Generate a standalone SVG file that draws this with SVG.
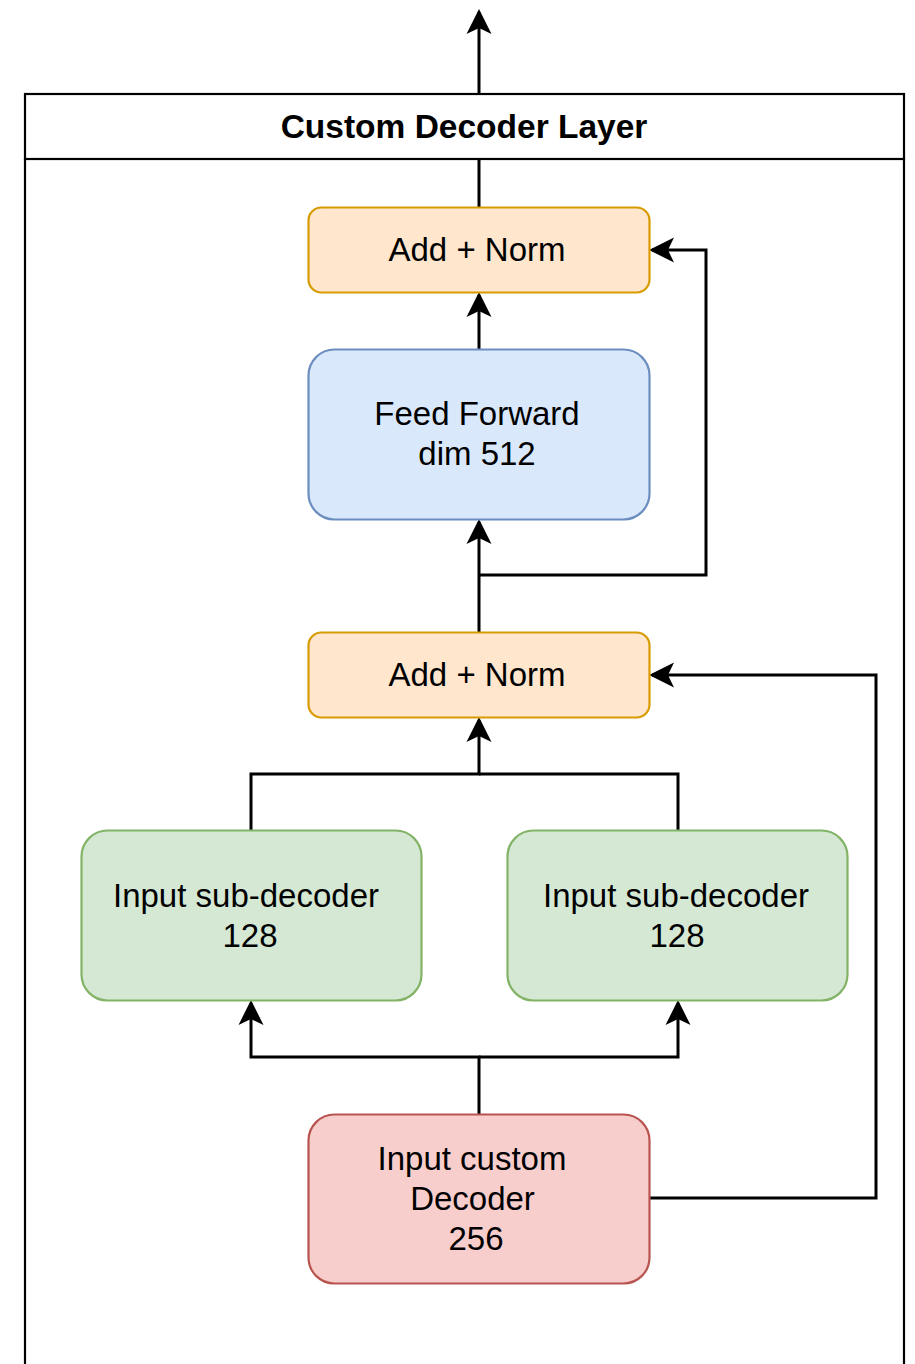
<svg xmlns="http://www.w3.org/2000/svg" width="915" height="1364" viewBox="0 0 915 1364">
<style>
.t{font-family:"Liberation Sans",Arial,Helvetica,sans-serif;font-size:33px;fill:#000;text-anchor:middle}
.b{font-weight:bold;font-size:33.5px}
.c{fill:none;stroke:#000;stroke-width:3}
.orange{fill:#ffe6cc;stroke:#d79b00;stroke-width:2.2}
.blue{fill:#dae8fc;stroke:#6c8ebf;stroke-width:2.2}
.green{fill:#d5e8d4;stroke:#82b366;stroke-width:2.2}
.red{fill:#f8cecc;stroke:#b85450;stroke-width:2.2}
</style>
<defs>
<marker id="arr" markerUnits="userSpaceOnUse" viewBox="-26 -13 27 26" markerWidth="27" markerHeight="26" refX="-3" refY="0" orient="auto">
<path d="M0,0 L-25,-12.5 L-19,0 L-25,12.5 Z" fill="#000"/>
</marker>
</defs>
<rect width="915" height="1364" fill="#fff"/>
<g id="connectors">
<path class="c" d="M479,207 V12" marker-end="url(#arr)"/>
<path class="c" d="M479,349 V295" marker-end="url(#arr)"/>
<path class="c" d="M479,632 V522" marker-end="url(#arr)"/>
<path class="c" d="M479,575 H706 V250 H652" marker-end="url(#arr)"/>
<path class="c" d="M251,830 V774 H479 V720" marker-end="url(#arr)"/>
<path class="c" d="M678,830 V774 H479"/>
<path class="c" d="M479,1114 V1057 H251 V1003" marker-end="url(#arr)"/>
<path class="c" d="M479,1057 H678 V1003" marker-end="url(#arr)"/>
<path class="c" d="M649,1198 H876 V675 H652" marker-end="url(#arr)"/>
</g>
<g id="container">
<rect x="25" y="94" width="879" height="65" fill="#fff" stroke="#000" stroke-width="2.2"/>
<path d="M25,159 V1366 M904,159 V1366" fill="none" stroke="#000" stroke-width="2.2"/>
<text class="t b" x="464" y="138">Custom Decoder Layer</text>
</g>
<g id="addnorm-top">
<rect class="orange" x="308.5" y="207.5" width="341" height="85" rx="13"/>
<text class="t" x="477" y="261">Add + Norm</text>
</g>
<g id="feed-forward">
<rect class="blue" x="308.5" y="349.5" width="341" height="170" rx="26"/>
<text class="t" x="477" y="425">Feed Forward</text>
<text class="t" x="477" y="465">dim 512</text>
</g>
<g id="addnorm-bottom">
<rect class="orange" x="308.5" y="632.5" width="341" height="85" rx="13"/>
<text class="t" x="477" y="686">Add + Norm</text>
</g>
<g id="subdecoder-left">
<rect class="green" x="81.5" y="830.5" width="340" height="170" rx="26"/>
<text class="t" x="246" y="907">Input sub-decoder</text>
<text class="t" x="250" y="947">128</text>
</g>
<g id="subdecoder-right">
<rect class="green" x="507.5" y="830.5" width="340" height="170" rx="26"/>
<text class="t" x="676" y="907">Input sub-decoder</text>
<text class="t" x="677" y="947">128</text>
</g>
<g id="input-custom-decoder">
<rect class="red" x="308.5" y="1114.5" width="341" height="169" rx="26"/>
<text class="t" x="472" y="1170">Input custom</text>
<text class="t" x="472.5" y="1210">Decoder</text>
<text class="t" x="476" y="1250">256</text>
</g>
</svg>
